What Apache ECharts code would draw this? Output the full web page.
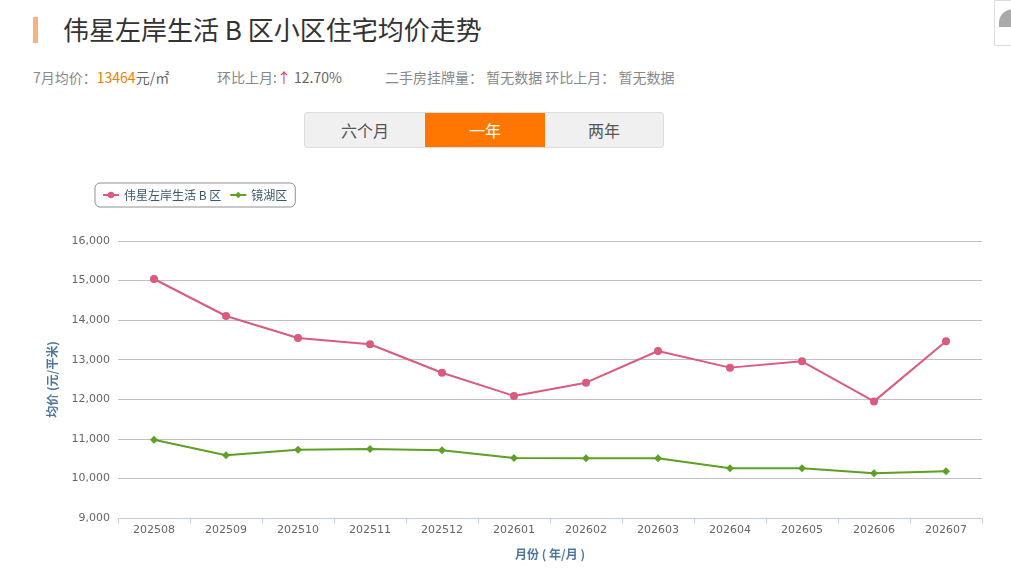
<!DOCTYPE html>
<html>
<head>
<meta charset="utf-8">
<title>伟星左岸生活B区小区住宅均价走势</title>
<script src="https://cdn.jsdelivr.net/npm/echarts@6/dist/echarts.min.js"></script>
<style>
    body{margin:0;background:#fff;font-family:"Noto Sans CJK SC","Noto Sans",sans-serif;}
    .wrap{position:relative;width:1011px;height:572px;overflow:hidden;}
    .title-bar{position:absolute;left:33px;top:17px;width:5px;height:26px;background:#f7b27e;}
    .title{position:absolute;left:63px;top:11px;font-size:26px;color:#333;line-height:36px;}
    .info{position:absolute;top:67px;font-size:14px;color:#888;line-height:20px;white-space:nowrap;}
    .info .num{color:#f07d00;}
    .info .up{color:#e5393e;}
    .info .dark{color:#666;}
    .tabs{position:absolute;left:304px;top:112px;width:358px;height:34px;border:1px solid #ddd;border-radius:3px;overflow:hidden;background:#f0f0f0;}
    .tabs span{position:absolute;top:0;width:120px;height:34px;line-height:34px;text-align:center;font-size:16px;color:#555;}
    .tabs span.on{background:#ff7700;color:#fff;}
    .corner{position:absolute;left:994px;top:0;width:30px;height:44px;border:1px solid #ddd;background:#fff;}
    .corner i{position:absolute;left:4px;top:8px;width:14px;height:18px;background:#aaa;border-radius:14px 0 0 0;}
    #chart{position:absolute;left:0;top:170px;width:1011px;height:402px;}
</style>
</head>
<body>
<div class="wrap">
    <div class="title-bar"></div>
    <div class="title">伟星左岸生活 B 区小区住宅均价走势</div>
    <div class="info" style="left:33px">7月均价：<span class="num">13464</span><span class="dark">元/㎡</span></div>
    <div class="info" style="left:217px">环比上月:<span class="up">↑</span><span class="dark"> 12.70%</span></div>
    <div class="info" style="left:385px">二手房挂牌量： 暂无数据 环比上月： 暂无数据</div>
    <div class="tabs"><span style="left:0">六个月</span><span class="on" style="left:120px">一年</span><span style="left:240px;width:118px">两年</span></div>
    <div class="corner"><i></i></div>
    <div id="chart"></div>
</div>
<script>
//月份
var months = ['202508','202509','202510','202511','202512','202601','202602','202603','202604','202605','202606','202607'];
//小区均价
var communityPrice = [15040, 14105, 13550, 13390, 12670, 12085, 12420, 13220, 12800, 12960, 11947, 13464];
//镜湖区均价
var districtPrice = [10975, 10585, 10727, 10745, 10712, 10517, 10510, 10510, 10257, 10255, 10130, 10180];
//y轴刻度
var yTicks = [9000, 10000, 11000, 12000, 13000, 14000, 15000, 16000];

(function priceTrendMap(){
    var myChart = echarts.init(document.getElementById('chart'));
    var labelFont = '"DejaVu Sans", Verdana, sans-serif';
    var option = {
        animation: false,
        textStyle: {fontFamily: '"Noto Sans CJK SC", "Noto Sans", sans-serif'},
        legend: {
            left: 95,
            top: 13,
            padding: [6, 8, 6, 7],
            itemGap: 8,
            itemWidth: 16,
            itemHeight: 8,
            borderColor: '#909090',
            borderWidth: 1,
            borderRadius: 5,
            textStyle: {color: '#3e576f', fontSize: 12},
            data: ['伟星左岸生活 B 区', '镜湖区']
        },
        grid: {
            left: 118,
            right: 29,
            top: 71,
            bottom: 54
        },
        xAxis: {
            type: 'category',
            data: months,
            boundaryGap: true,
            name: '月份 ( 年/月 )',
            nameLocation: 'middle',
            nameGap: 30,
            nameTextStyle: {color: '#4d759e', fontSize: 12, fontWeight: 'bold'},
            axisLine: {lineStyle: {color: '#c0d0e0'}},
            axisTick: {show: true, length: 5, lineStyle: {color: '#c0d0e0'}},
            axisLabel: {color: '#666', fontSize: 11, margin: 7, fontFamily: labelFont}
        },
        yAxis: {
            type: 'value',
            min: yTicks[0],
            max: yTicks[yTicks.length - 1],
            interval: 1000,
            name: '均价 (元/平米)',
            nameLocation: 'middle',
            nameGap: 60,
            nameTextStyle: {color: '#4d759e', fontSize: 12, fontWeight: 'bold'},
            axisLine: {show: false},
            axisTick: {show: false},
            axisLabel: {
                color: '#666',
                fontSize: 11,
                margin: 8,
                fontFamily: labelFont,
                formatter: function(v){ return echarts.format.addCommas(v); }
            },
            splitLine: {lineStyle: {color: '#c0c0c0', width: 1}}
        },
        series: [
            {
                name: '伟星左岸生活 B 区',
                type: 'line',
                data: communityPrice,
                symbol: 'circle',
                symbolSize: 8,
                color: '#dc5a7e',
                lineStyle: {width: 2},
                itemStyle: {color: '#dc5a7e'}
            },
            {
                name: '镜湖区',
                type: 'line',
                data: districtPrice,
                symbol: 'diamond',
                symbolSize: 8,
                color: '#5da024',
                lineStyle: {width: 2},
                itemStyle: {color: '#5da024'}
            }
        ]
    };
    myChart.setOption(option);
})();
</script>
</body>
</html>
